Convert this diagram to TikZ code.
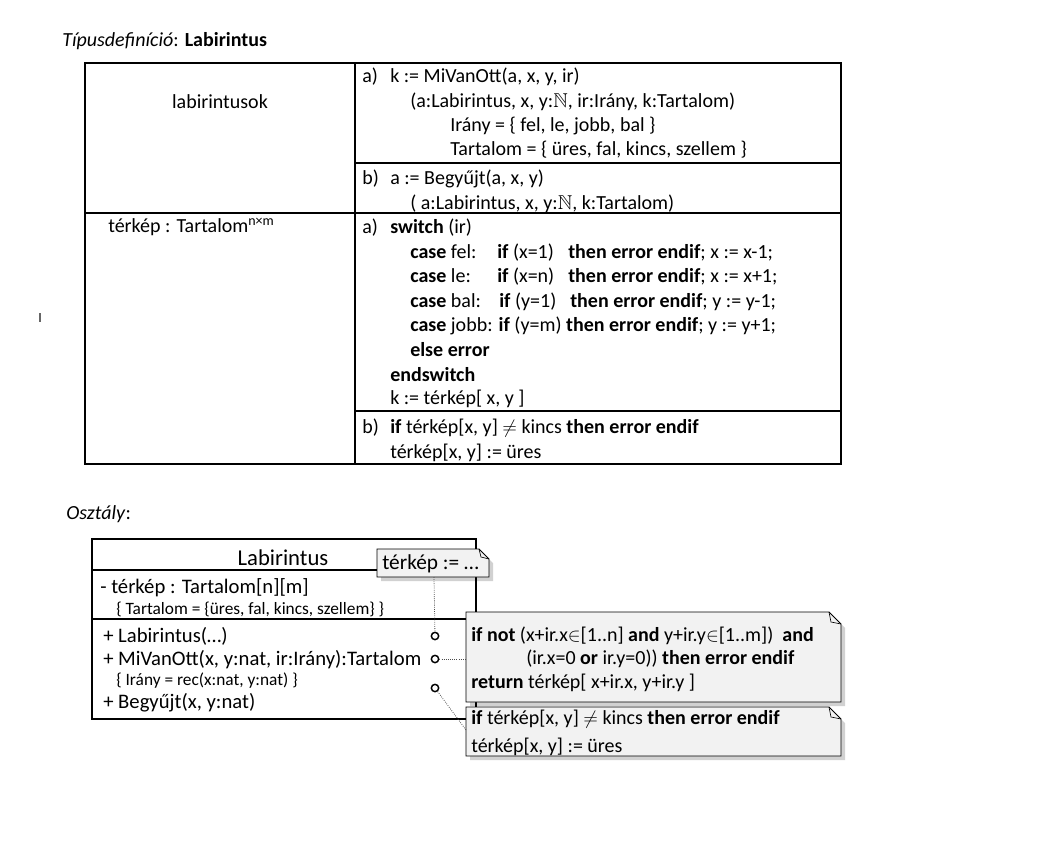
\documentclass[tikz,border=0pt]{standalone}
\usepackage{fontspec}
\setmainfont{Carlito}
\usepackage{amssymb}
\usetikzlibrary{positioning}
\definecolor{notegray}{HTML}{F2F2F2}
\tikzset{
  txt/.style={anchor=base west, inner sep=0pt, font=\fontsize{15}{18}\selectfont},
  cls/.style={anchor=base west, inner sep=0pt, font=\fontsize{15.5}{18}\selectfont},
  small/.style={anchor=base west, inner sep=0pt, font=\fontsize{13}{15}\selectfont},
  frame/.style={line width=1.5pt},
  rule/.style={line width=0.8pt},
  note/.style={draw, line width=0.6pt, fill=notegray},
  shade/.style={fill=black, opacity=0.18},
  link/.style={densely dotted, line width=0.6pt, black!70},
  port/.style={circle, draw, line width=1.1pt, fill=white, inner sep=0pt, minimum size=5.5pt}
}
\begin{document}
\begin{tikzpicture}[x=0.75pt, y=-0.75pt]
\useasboundingbox (0,0) rectangle (1054,864);
% type definition
\node[txt] (title) at (62,46) {\textit{Típusdefiníció}: \textbf{Labirintus}};
\coordinate (TL) at (85,63);
\coordinate (BR) at (841,464);
\coordinate (M) at (355,63);
\draw[frame] (TL) rectangle (BR);
\draw[frame] (M) -- (355,464);
\draw[frame] (85,213) -- (841,213);
\draw[rule] (355,163) -- (841,163);
\draw[rule] (355,411) -- (841,411);
\draw[black!60, line width=0.8pt] (40,313) -- (40,322);
% left column
\node[txt, anchor=base] (set) at (220,108) {labirintusok};
\node[txt] (rep) at (108,232) {térkép : Tartalom\textsuperscript{n×m}};
% operations
\node[txt] (oa) at (362,82) {a)};
\node[txt] at (390,82) {k := MiVanOtt(a, x, y, ir)};
\node[txt] at (410,107) {(a:Labirintus, x, y:$\mathbb{N}$, ir:Irány, k:Tartalom)};
\node[txt] at (450,131) {Irány = \{ fel, le, jobb, bal \}};
\node[txt] at (450,155) {Tartalom = \{ üres, fal, kincs, szellem \}};
\node[txt] (ob) at (362,184) {b)};
\node[txt] at (390,184) {a := Begyűjt(a, x, y)};
\node[txt] at (410,209) {( a:Labirintus, x, y:$\mathbb{N}$, k:Tartalom)};
% implementation
\node[txt] (ia) at (362,233) {a)};
\node[txt] at (390,233) {\textbf{switch} (ir)};
\node[txt] at (410,258) {\textbf{case} fel:};
\node[txt] at (497,258) {\textbf{if} (x=1)};
\node[txt] at (568,258) {\textbf{then error endif}; x := x-1;};
\node[txt] at (410,282) {\textbf{case} le:};
\node[txt] at (497,282) {\textbf{if} (x=n)};
\node[txt] at (568,282) {\textbf{then error endif}; x := x+1;};
\node[txt] at (410,307) {\textbf{case} bal:};
\node[txt] at (499,307) {\textbf{if} (y=1)};
\node[txt] at (570,307) {\textbf{then error endif}; y := y-1;};
\node[txt] at (410,331) {\textbf{case} jobb: \textbf{if} (y=m) \textbf{then error endif}; y := y+1;};
\node[txt] at (410,356) {\textbf{else error}};
\node[txt] at (390,381) {\textbf{endswitch}};
\node[txt] at (390,404) {k := térkép[ x, y ]};
\node[txt] (ib) at (362,433) {b)};
\node[txt] at (390,433) {\textbf{if} térkép[x, y] $\neq$ kincs \textbf{then error endif}};
\node[txt] at (390,458) {térkép[x, y] := üres};
% class
\node[txt] (osz) at (66,519) {\textit{Osztály}:};
\draw[frame] (92,539) rectangle (476,719);
\draw[rule] (92,570) -- (476,570);
\draw[rule] (92,619) -- (476,619);
\node[inner sep=0pt, font=\fontsize{17}{20}\selectfont] (cname) at (283,558) {Labirintus};
\node[cls] at (100,593) {- térkép : Tartalom[n][m]};
\node[small] at (116,614) {\{ Tartalom = \{üres, fal, kincs, szellem\} \}};
\node[cls] at (103,642) {+ Labirintus(…)};
\node[cls] at (103,665) {+ MiVanOtt(x, y:nat, ir:Irány):Tartalom};
\node[small] at (116,685) {\{ Irány = rec(x:nat, y:nat) \}};
\node[cls] at (103,708) {+ Begyűjt(x, y:nat)};
\node[port] (p1) at (435,636) {};
\node[port] (p2) at (435,659) {};
\node[port] (p3) at (435,688) {};
% notes
\fill[shade] (381,553) -- (483,553) -- (493,563) -- (493,581) -- (381,581) -- cycle;
\filldraw[note] (377,549) -- (479,549) -- (489,559) -- (489,577) -- (377,577) -- cycle;
\draw[line width=0.5pt] (479,549) -- (481,557) -- (489,559);
\node[txt, font=\fontsize{16}{19}\selectfont] (n1) at (382,569) {térkép := …};
\coordinate (n1s) at (434,577);
\fill[shade] (470,616) -- (833,616) -- (845,628) -- (845,706) -- (470,706) -- cycle;
\filldraw[note] (466,612) -- (829,612) -- (841,624) -- (841,702) -- (466,702) -- cycle;
\draw[line width=0.5pt] (829,612) -- (831,622) -- (841,624);
\node[txt] (n2) at (471,641) {\textbf{if not} (x+ir.x$\in$[1..n] \textbf{and} y+ir.y$\in$[1..m])~~\textbf{and}};
\node[txt] at (526,664) {(ir.x=0 \textbf{or} ir.y=0)) \textbf{then error endif}};
\node[txt] at (471,688) {\textbf{return} térkép[ x+ir.x, y+ir.y ]};
\coordinate (n2w) at (466,659);
\fill[shade] (470,711) -- (833,711) -- (845,723) -- (845,760) -- (470,760) -- cycle;
\filldraw[note] (466,707) -- (829,707) -- (841,719) -- (841,756) -- (466,756) -- cycle;
\draw[line width=0.5pt] (829,707) -- (831,717) -- (841,719);
\node[txt] (n3) at (471,724) {\textbf{if} térkép[x, y] $\neq$ kincs \textbf{then error endif}};
\node[txt] at (471,752) {térkép[x, y] := üres};
\coordinate (n3w) at (466,730);
% links
\draw[link] (n1s) -- (p1);
\draw[link] (p2) -- (n2w);
\draw[link] (p3) -- (n3w);
\end{tikzpicture}
\end{document}
